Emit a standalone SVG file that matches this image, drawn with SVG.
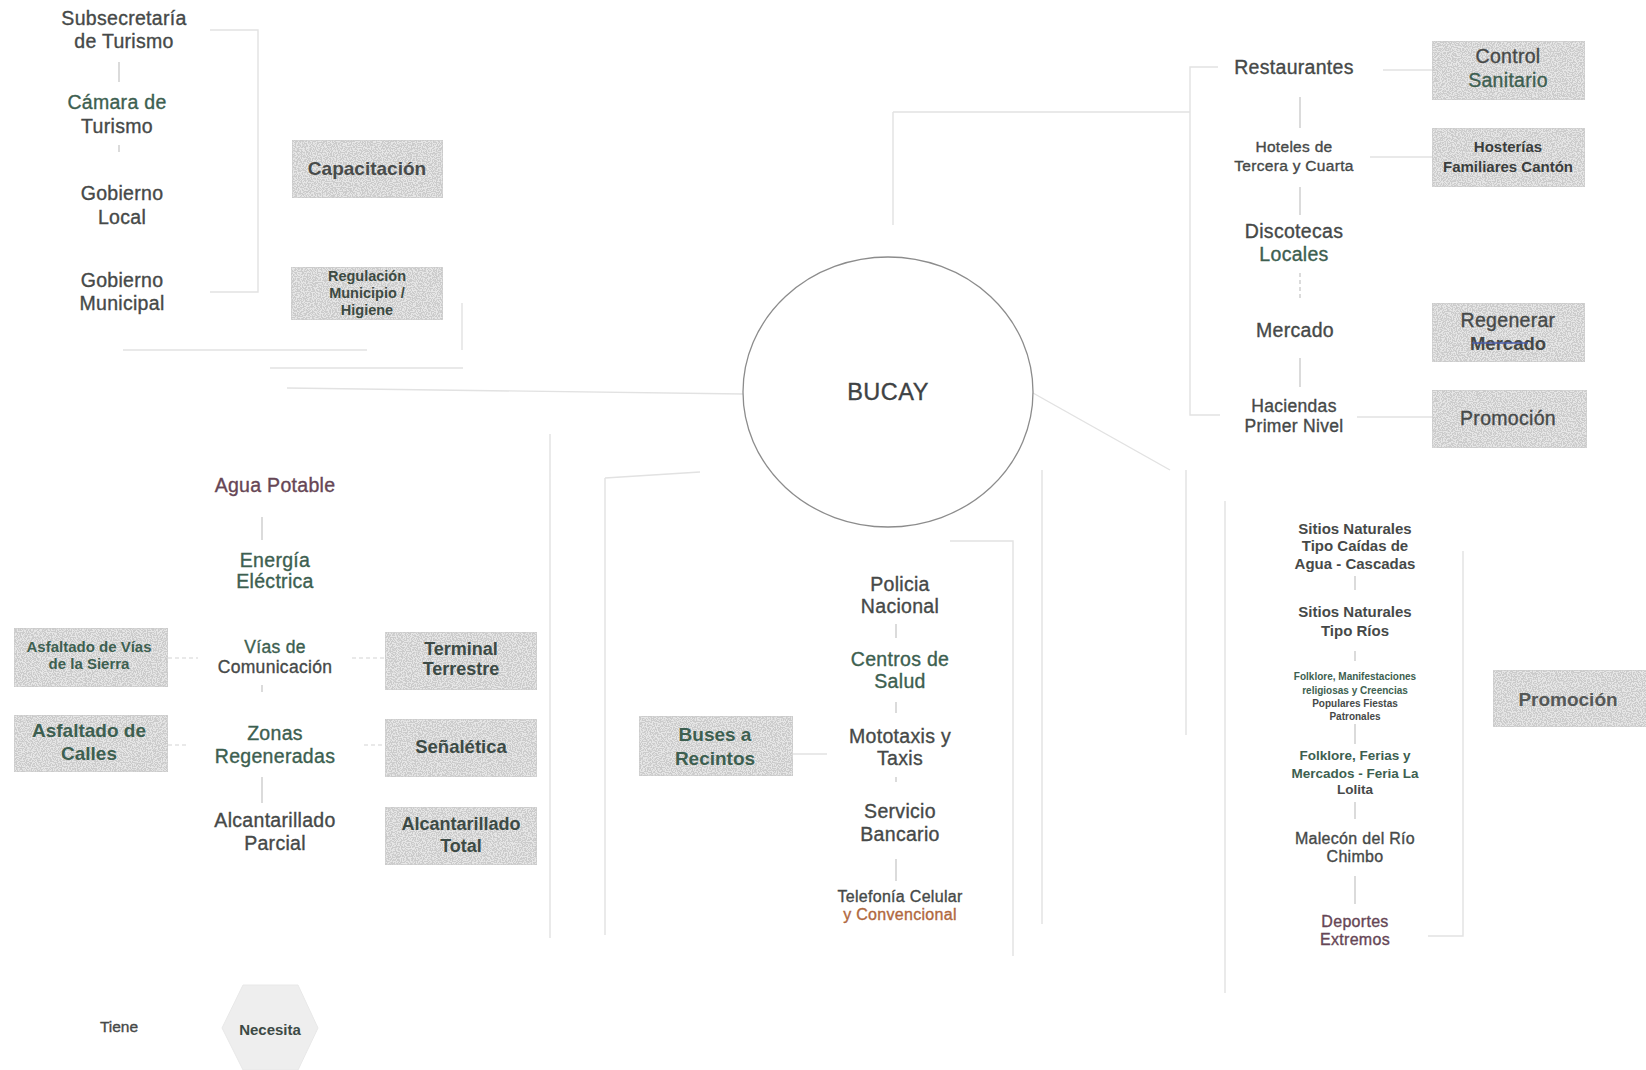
<svg xmlns="http://www.w3.org/2000/svg" width="1646" height="1070" viewBox="0 0 1646 1070">
<defs>
<style>
.t{font-family:"Liberation Sans",Arial,sans-serif;font-size:19.5px;letter-spacing:0.3px;text-anchor:middle;fill:#464948;stroke:#464948;stroke-width:0.35}
.s{font-size:17.5px}
.m{font-size:15.5px}
.b{font-weight:bold;letter-spacing:0;stroke-width:0}
.g{fill:#3d5f50;stroke:#3d5f50}
.mr{fill:#664655;stroke:#664655}
.bx{fill:#e6e6e6;stroke:#d0d0d0;stroke-width:1.5}
.c{fill:none;stroke:#e2e2e2;stroke-width:1.4}
.k{fill:none;stroke:#c4c4c4;stroke-width:1.2}
.d{stroke-dasharray:4 3}
</style>
<filter id="spk" x="0" y="0" width="1" height="1">
<feTurbulence type="fractalNoise" baseFrequency="0.8" numOctaves="1" seed="3" result="n"/>
<feColorMatrix in="n" type="matrix" values="0 0 0 0 0.6  0 0 0 0 0.6  0 0 0 0 0.6  0 0 0 -12 6.6" result="dots"/>
<feComposite in="dots" in2="SourceGraphic" operator="in" result="d2"/>
<feMerge><feMergeNode in="SourceGraphic"/><feMergeNode in="d2"/></feMerge>
</filter>
</defs>
<rect width="1646" height="1070" fill="#ffffff"/>

<g id="connectors">
<path class="c" d="M210,30 H258 V292 H210"/>
<path class="c" d="M123,350 H367"/>
<path class="c" d="M270,368 H463 M462,303 V350"/>
<path class="c" d="M287,388 L743,394"/>
<path class="k" d="M119,62 V82 M119,145 V152"/>
<path class="c" d="M893,112 V225 M893,112 H1190"/>
<path class="c" d="M1218,67 H1190 V415 H1220"/>
<path class="c" d="M1383,70 H1432 M1370,157 H1432 M1357,417 H1432"/>
<path class="k" d="M1300,97 V128 M1300,187 V215 M1300,358 V387"/>
<path class="k d" d="M1300,273 V300"/>
<path class="c" d="M1033,393 L1170,470"/>
<path class="c" d="M1042,470 V924 M1186,470 V735 M1225,501 V993"/>
<path class="c" d="M1463,551 V936 H1428"/>
<path class="c" d="M950,541 H1013 V956"/>
<path class="c" d="M550,434 V938 M605,478 V935 M605,478 L700,472"/>
<path class="k" d="M743,394 H750 M760,448 L765,452"/>
<path class="k" d="M262,517 V540 M262,685 V692 M262,777 V803"/>
<path class="c d" d="M168,658 H198 M352,658 H385 M168,745 H186 M364,745 H385"/>
<path class="c" d="M793,754 H827"/>
<path class="k" d="M896,624 V638 M896,702 V713 M896,777 V782 M896,859 V881"/>
<path class="k" d="M1355,576 V590 M1355,651 V661 M1355,724 V744 M1355,802 V819 M1355,876 V904"/>
</g>

<g id="bucay">
<ellipse cx="888" cy="392" rx="145" ry="135" fill="#ffffff" stroke="#8c8c8c" stroke-width="1.3"/>
<text class="t" x="888" y="400" style="font-size:23.5px;letter-spacing:0.5px;fill:#3e4244;stroke:#3e4244">BUCAY</text>
</g>

<g id="subsecretaria"><text class="t" x="124" y="25">Subsecretaría</text><text class="t" x="124" y="48">de Turismo</text></g>
<g id="camara"><text class="t g" x="117" y="109">Cámara de</text><text class="t" x="117" y="133">Turismo</text></g>
<g id="gobierno-local"><text class="t" x="122" y="200">Gobierno</text><text class="t" x="122" y="224">Local</text></g>
<g id="gobierno-municipal"><text class="t" x="122" y="287">Gobierno</text><text class="t" x="122" y="310">Municipal</text></g>
<g id="capacitacion"><rect class="bx" x="292" y="140" width="151" height="58" filter="url(#spk)"/><text class="t b" x="367" y="175" style="font-size:19px;fill:#484b4a">Capacitación</text></g>
<g id="regulacion"><rect class="bx" x="291" y="267" width="152" height="53" filter="url(#spk)"/>
<text class="t b" x="367" y="281" style="font-size:14.5px;fill:#3c4a42">Regulación</text>
<text class="t b" x="367" y="298" style="font-size:14.5px;fill:#3c4a42">Municipio /</text>
<text class="t b" x="367" y="315" style="font-size:14.5px;fill:#3c4a42">Higiene</text></g>

<g id="restaurantes"><text class="t" x="1294" y="74">Restaurantes</text></g>
<g id="hoteles"><text class="t m" x="1294" y="152">Hoteles de</text><text class="t m" x="1294" y="171">Tercera y Cuarta</text></g>
<g id="discotecas"><text class="t" x="1294" y="238">Discotecas</text><text class="t g" x="1294" y="261">Locales</text></g>
<g id="mercado"><text class="t" x="1295" y="337">Mercado</text></g>
<g id="haciendas"><text class="t s" x="1294" y="412">Haciendas</text><text class="t s" x="1294" y="432">Primer Nivel</text></g>
<g id="control-sanitario"><rect class="bx" x="1432" y="41" width="153" height="59" filter="url(#spk)"/><text class="t" x="1508" y="63">Control</text><text class="t g" x="1508" y="87">Sanitario</text></g>
<g id="hosterias"><rect class="bx" x="1432" y="128" width="153" height="59" filter="url(#spk)"/><text class="t b" x="1508" y="152" style="font-size:15px;fill:#3a3d3c">Hosterías</text><text class="t b" x="1508" y="172" style="font-size:15px;fill:#3a3d3c">Familiares Cantón</text></g>
<g id="regenerar"><rect class="bx" x="1432" y="303" width="153" height="59" filter="url(#spk)"/><text class="t" x="1508" y="327">Regenerar</text><text class="t b" x="1508" y="350" style="font-size:18.5px;fill:#444746">Mercado</text><path d="M1472,343 H1528" stroke="#4a5aa8" stroke-width="1.4"/></g>
<g id="promocion-1"><rect class="bx" x="1432" y="390" width="155" height="58" filter="url(#spk)"/><text class="t" x="1508" y="425">Promoción</text></g>

<g id="agua"><text class="t mr" x="275" y="492">Agua Potable</text></g>
<g id="energia"><text class="t g" x="275" y="567">Energía</text><text class="t g" x="275" y="588">Eléctrica</text></g>
<g id="vias"><text class="t s g" x="275" y="653">Vías de</text><text class="t s" x="275" y="673">Comunicación</text></g>
<g id="zonas"><text class="t g" x="275" y="740">Zonas</text><text class="t g" x="275" y="763">Regeneradas</text></g>
<g id="alcantarillado-parcial"><text class="t" x="275" y="827">Alcantarillado</text><text class="t" x="275" y="850">Parcial</text></g>
<g id="asfaltado-vias"><rect class="bx" x="14" y="628" width="154" height="59" filter="url(#spk)"/><text class="t b g" x="89" y="652" style="font-size:15px">Asfaltado de Vías</text><text class="t b g" x="89" y="669" style="font-size:15px">de la Sierra</text></g>
<g id="asfaltado-calles"><rect class="bx" x="14" y="715" width="154" height="57" filter="url(#spk)"/><text class="t b g" x="89" y="737" style="font-size:19px">Asfaltado de</text><text class="t b g" x="89" y="760" style="font-size:19px">Calles</text></g>
<g id="terminal"><rect class="bx" x="385" y="632" width="152" height="58" filter="url(#spk)"/><text class="t b" x="461" y="655" style="font-size:18px;fill:#3c4a45">Terminal</text><text class="t b" x="461" y="675" style="font-size:18px;fill:#3c4a45">Terrestre</text></g>
<g id="senaletica"><rect class="bx" x="385" y="719" width="152" height="58" filter="url(#spk)"/><text class="t b" x="461" y="753" style="font-size:18.5px;fill:#3c4a45">Señalética</text></g>
<g id="alcantarillado-total"><rect class="bx" x="385" y="807" width="152" height="58" filter="url(#spk)"/><text class="t b" x="461" y="830" style="font-size:18px;fill:#3c4a45">Alcantarillado</text><text class="t b" x="461" y="852" style="font-size:18px;fill:#3c4a45">Total</text></g>

<g id="buses"><rect class="bx" x="639" y="716" width="154" height="60" filter="url(#spk)"/><text class="t b g" x="715" y="741" style="font-size:19px">Buses a</text><text class="t b g" x="715" y="765" style="font-size:19px">Recintos</text></g>
<g id="policia"><text class="t" x="900" y="591">Policia</text><text class="t" x="900" y="613">Nacional</text></g>
<g id="centros"><text class="t g" x="900" y="666">Centros de</text><text class="t g" x="900" y="688">Salud</text></g>
<g id="mototaxis"><text class="t" x="900" y="743">Mototaxis y</text><text class="t" x="900" y="765">Taxis</text></g>
<g id="servicio"><text class="t" x="900" y="818">Servicio</text><text class="t" x="900" y="841">Bancario</text></g>
<g id="telefonia"><text class="t" x="900" y="902" style="font-size:16px">Telefonía Celular</text><text class="t" x="900" y="920" style="font-size:16px;fill:#b0683e;stroke:#b0683e">y Convencional</text></g>

<g id="sitios-cascadas"><text class="t b" x="1355" y="534" style="font-size:15px">Sitios Naturales</text><text class="t b" x="1355" y="551" style="font-size:15px">Tipo Caídas de</text><text class="t b" x="1355" y="569" style="font-size:15px">Agua - Cascadas</text></g>
<g id="sitios-rios"><text class="t b" x="1355" y="617" style="font-size:15px">Sitios Naturales</text><text class="t b" x="1355" y="636" style="font-size:15px">Tipo Ríos</text></g>
<g id="folklore-manifestaciones"><text class="t b g" x="1355" y="680" style="font-size:10px">Folklore, Manifestaciones</text><text class="t b g" x="1355" y="694" style="font-size:10px">religiosas y Creencias</text><text class="t b" x="1355" y="707" style="font-size:10px">Populares Fiestas</text><text class="t b" x="1355" y="720" style="font-size:10px">Patronales</text></g>
<g id="folklore-ferias"><text class="t b g" x="1355" y="760" style="font-size:13.5px">Folklore, Ferias y</text><text class="t b g" x="1355" y="778" style="font-size:13.5px">Mercados - Feria La</text><text class="t b" x="1355" y="794" style="font-size:13.5px">Lolita</text></g>
<g id="malecon"><text class="t" x="1355" y="844" style="font-size:16px">Malecón del Río</text><text class="t" x="1355" y="862" style="font-size:16px">Chimbo</text></g>
<g id="deportes"><text class="t mr" x="1355" y="927" style="font-size:16px">Deportes</text><text class="t mr" x="1355" y="945" style="font-size:16px">Extremos</text></g>
<g id="promocion-2"><rect class="bx" x="1493" y="670" width="160" height="57" filter="url(#spk)"/><text class="t b" x="1568" y="706" style="font-size:19px;fill:#555857">Promoción</text></g>

<g id="legend-tiene"><text class="t" x="119" y="1032" style="font-size:15.5px;letter-spacing:0">Tiene</text></g>
<g id="legend-necesita"><polygon points="243,985 298,985 318,1028 298,1070 243,1070 222,1028" fill="#eeeeee" stroke="#e8e8e8"/><text class="t b" x="270" y="1035" style="font-size:15px;fill:#3c4a45">Necesita</text></g>
</svg>
